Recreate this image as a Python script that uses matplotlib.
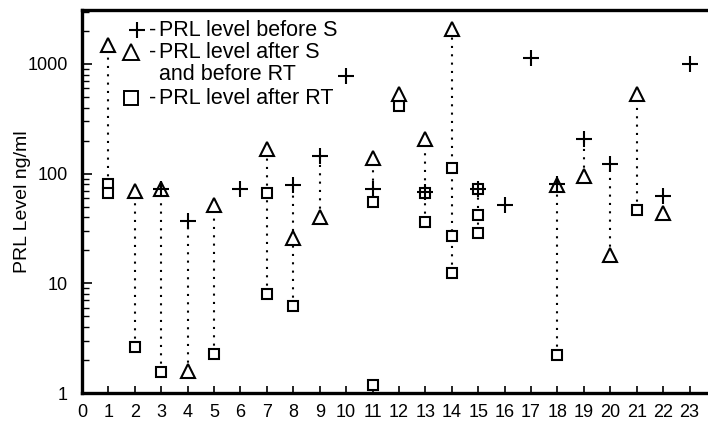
import matplotlib
matplotlib.use("Agg")
import matplotlib.pyplot as plt
from matplotlib.ticker import LogLocator, NullFormatter, FixedLocator, FixedFormatter

# ---- data ----
before_S_pat = [3, 4, 6, 8, 9, 10, 11, 13, 15, 16, 17, 18, 19, 20, 22, 23]
before_S_val = [72, 37, 73, 78, 144, 780, 72, 68, 73, 52, 1130, 80, 207, 122, 63, 1000]

after_S_pat = [1, 2, 3, 4, 5, 7, 8, 9, 11, 12, 13, 14, 18, 19, 20, 21, 22]
after_S_val = [1500, 70, 73, 1.6, 52, 166, 26, 40, 140, 535, 207, 2100, 78, 95, 18, 535, 44]

after_RT_pat = [1, 1, 2, 3, 5, 7, 7, 8, 11, 11, 12, 13, 13, 14, 14, 14, 15, 15, 15, 18, 21]
after_RT_val = [81, 67, 2.6, 1.55, 2.25, 67, 8, 6.2, 55, 1.19, 411, 66, 36, 113, 27, 12.5, 73, 42, 29, 2.2, 47]

link_pat = [1, 2, 3, 4, 5, 7, 8, 9, 11, 13, 14, 15, 18, 19, 20, 21]
link_hi = [1500, 70, 73, 37, 52, 166, 78, 144, 140, 207, 2100, 73, 78, 207, 122, 535]
link_lo = [67, 2.6, 1.55, 1.6, 2.25, 8, 6.2, 40, 72, 36, 12.5, 29, 2.2, 95, 18, 47]

x_ticks = list(range(0, 24))
y_ticks = [1, 10, 100, 1000]
y_tick_labels = ["1", "10", "100", "1000"]

legend_lines = ["PRL level before S", "PRL level after S", "and before RT", "PRL level after RT"]

plt.rcParams['font.family'] = ['Liberation Sans', 'DejaVu Sans']

W, H = 708, 422
fig = plt.figure(figsize=(W / 100, H / 100), dpi=100)
ax = fig.add_axes([82 / W, 29 / H, (W - 82) / W, (393 - 10) / H])

ax.set_yscale('log')
ax.set_xlim(0, 23.7)
ax.set_ylim(1, 3100)

# dotted links
ax.vlines(link_pat, link_lo, link_hi, colors='black', linestyles=(0, (1, 3.0)),
          linewidth=1.5, zorder=1)

ax.plot(after_RT_pat, after_RT_val, linestyle='none', marker='s', markersize=7.8,
        markerfacecolor='white', markeredgecolor='black', markeredgewidth=1.5, zorder=2)
ax.plot(after_S_pat, after_S_val, linestyle='none', marker='^', markersize=9.5,
        markerfacecolor='white', markeredgecolor='black', markeredgewidth=1.5, zorder=3)
ax.plot(before_S_pat, before_S_val, linestyle='none', marker='+', markersize=11,
        markeredgecolor='black', markeredgewidth=1.5, zorder=4)

# spines
for s in ['left', 'bottom', 'top']:
    ax.spines[s].set_linewidth(2.4)
ax.spines['right'].set_visible(False)

ax.yaxis.set_major_locator(FixedLocator(y_ticks))
ax.yaxis.set_major_formatter(FixedFormatter(y_tick_labels))
ax.yaxis.set_minor_locator(LogLocator(base=10, subs=range(2, 10)))
ax.yaxis.set_minor_formatter(NullFormatter())
ax.set_xticks(x_ticks)
ax.set_xticklabels([str(t) for t in x_ticks])

ax.tick_params(axis='y', which='major', direction='in', length=7, width=1.2,
               labelsize=13, pad=10, right=False)
ax.tick_params(axis='y', which='minor', direction='in', length=5, width=1.0, right=False)
ax.tick_params(axis='x', which='major', direction='in', length=5, width=1.2,
               labelsize=13, pad=8, top=False)

ax.set_ylabel("PRL Level ng/ml", fontsize=14)
ax.yaxis.set_label_coords(-0.081, 0.5)

# legend drawn as text
tf = fig.transFigure
ax.plot([137 / W], [1 - 30 / H], transform=tf, marker='+', markersize=11,
        markeredgecolor='black', markeredgewidth=1.5, clip_on=False, linestyle='none')
ax.plot([131 / W], [1 - 52 / H], transform=tf, marker='^', markersize=11,
        markerfacecolor='white', markeredgecolor='black', markeredgewidth=1.4,
        clip_on=False, linestyle='none')
ax.plot([131 / W], [1 - 98 / H], transform=tf, marker='s', markersize=10,
        markerfacecolor='white', markeredgecolor='black', markeredgewidth=1.4,
        clip_on=False, linestyle='none')
for yy in [30, 52, 98]:
    fig.text(149 / W, 1 - yy / H, "-", fontsize=15.5, va='center', ha='left')
fig.text(159 / W, 1 - 30 / H, legend_lines[0], fontsize=15.5, va='center', ha='left')
fig.text(159 / W, 1 - 52 / H, legend_lines[1], fontsize=15.5, va='center', ha='left')
fig.text(159 / W, 1 - 75 / H, legend_lines[2], fontsize=15.5, va='center', ha='left')
fig.text(159 / W, 1 - 98 / H, legend_lines[3], fontsize=15.5, va='center', ha='left')

fig.savefig("out.png", dpi=100)
